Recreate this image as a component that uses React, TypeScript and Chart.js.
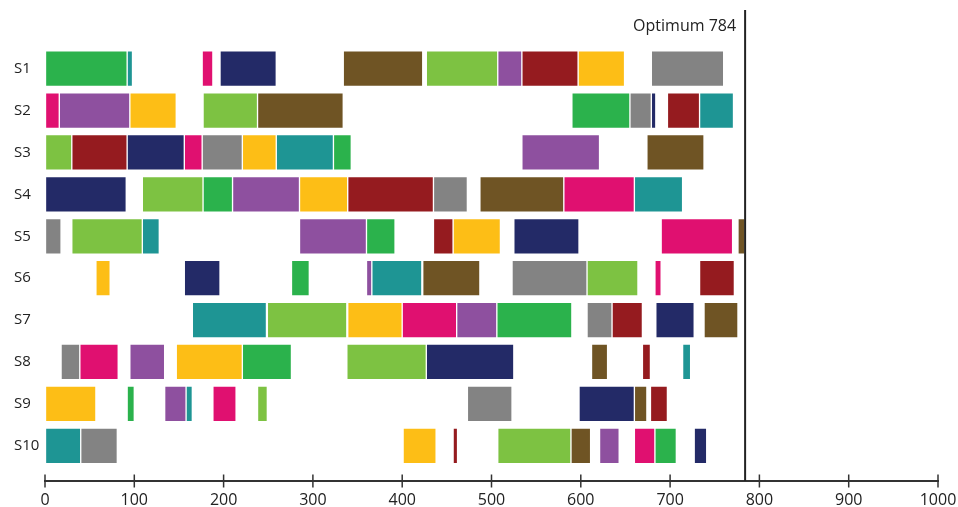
import React, { useEffect, useRef } from "react";
import { Chart, registerables } from "chart.js";

Chart.register(...registerables);

const machines = ["S1", "S2", "S3", "S4", "S5", "S6", "S7", "S8", "S9", "S10"];
const xTicks = [0, 100, 200, 300, 400, 500, 600, 700, 800, 900, 1000];
const optimum = 784;

// [start, end] per machine S1..S10 for each job (colour)
const jobGreen = [[0, 92], [590, 655], [323, 343], [177, 210], [360, 392], [276, 296], [506, 590], [221, 276], [92, 100], [683, 707]];
const jobTeal = [[92, 98], [733, 771], [259, 323], [660, 714], [109, 128], [366, 422], [165, 248], [714, 723], [158, 165], [0, 40]];
const jobMagenta = [[176, 188], [0, 16], [156, 176], [581, 660], [690, 770], [683, 690], [400, 461], [39, 82], [188, 214], [660, 683]];
const jobNavy = [[196, 259], [679, 684], [92, 156], [0, 91], [525, 598], [156, 196], [684, 727], [427, 525], [598, 660], [727, 741]];
const jobBrown = [[334, 423], [238, 334], [674, 738], [487, 581], [776, 784], [423, 487], [738, 776], [612, 630], [660, 674], [589, 611]];
const jobLightGreen = [[427, 507], [177, 238], [0, 30], [109, 177], [30, 109], [607, 664], [249, 338], [338, 427], [238, 249], [507, 589]];
const jobPurple = [[507, 534], [16, 95], [534, 621], [210, 285], [285, 360], [360, 366], [461, 506], [95, 134], [134, 158], [621, 643]];
const jobRed = [[534, 597], [697, 733], [30, 92], [339, 435], [435, 457], [733, 772], [635, 669], [669, 678], [678, 697], [457, 462]];
const jobYellow = [[597, 649], [95, 147], [221, 259], [285, 339], [457, 510], [57, 73], [339, 400], [147, 221], [0, 57], [401, 438]];
const jobGray = [[679, 760], [655, 679], [176, 221], [435, 473], [0, 18], [523, 607], [607, 635], [18, 39], [473, 523], [40, 81]];

const jobs = [
  { name: "J1", data: jobGreen, color: "#2BB24C" },
  { name: "J2", data: jobTeal, color: "#1E9594" },
  { name: "J3", data: jobMagenta, color: "#E01070" },
  { name: "J4", data: jobNavy, color: "#232A67" },
  { name: "J5", data: jobBrown, color: "#6F5424" },
  { name: "J6", data: jobLightGreen, color: "#7DC242" },
  { name: "J7", data: jobPurple, color: "#8E509F" },
  { name: "J8", data: jobRed, color: "#951B1F" },
  { name: "J9", data: jobYellow, color: "#FDBE16" },
  { name: "J10", data: jobGray, color: "#838383" },
];

const FONT = "'Open Sans', 'DejaVu Sans', sans-serif";

const overlayPlugin = {
  id: "overlay",
  afterDraw(chart: any) {
    const { ctx, chartArea, scales } = chart;
    const x = scales.x;
    const bottom = chartArea.bottom;
    ctx.save();
    // crossing tick marks
    ctx.strokeStyle = "#333";
    ctx.lineWidth = 1.5;
    xTicks.forEach((v) => {
      const px = x.getPixelForValue(v);
      ctx.beginPath();
      ctx.moveTo(px, bottom - 6.5);
      ctx.lineTo(px, bottom + 6.5);
      ctx.stroke();
    });
    // optimum line
    const ox = x.getPixelForValue(optimum);
    ctx.strokeStyle = "#222";
    ctx.lineWidth = 2;
    ctx.beginPath();
    ctx.moveTo(ox, 10);
    ctx.lineTo(ox, bottom);
    ctx.stroke();
    ctx.fillStyle = "#222";
    ctx.font = `16px ${FONT}`;
    ctx.textAlign = "right";
    ctx.textBaseline = "middle";
    ctx.fillText(`Optimum ${optimum}`, ox - 9, 26);
    ctx.restore();
  },
};

export default function App() {
  const ref = useRef<HTMLCanvasElement>(null);
  useEffect(() => {
    if (!ref.current) return;
    const chart = new Chart(ref.current, {
      type: "bar",
      data: {
        datasets: jobs.map((j) => ({
          label: j.name,
          data: j.data.map((d, i) => ({ x: d, y: i })) as any,
          backgroundColor: j.color,
          borderColor: "rgba(255,255,255,0.55)",
          borderWidth: 1,
          borderSkipped: false,
          barThickness: 35.6,
          grouped: false,
        })),
      },
      options: {
        indexAxis: "y",
        animation: false,
        responsive: true,
        maintainAspectRatio: false,
        layout: { padding: { left: 14, right: 20, top: 47.7, bottom: 0 } },
        plugins: { legend: { display: false }, tooltip: { enabled: false } },
        scales: {
          x: {
            type: "linear",
            min: 0,
            max: 1000,
            afterBuildTicks: (axis: any) => {
              axis.ticks = xTicks.map((v) => ({ value: v }));
            },
            afterFit: (axis: any) => {
              axis.height = 26;
              axis.paddingLeft = 0;
              axis.paddingRight = 0;
            },
            grid: { display: true, drawOnChartArea: false, drawTicks: false },
            border: { display: true, color: "#333", width: 2 },
            ticks: {
              padding: 10,
              color: "#222",
              font: { family: FONT, size: 16 },
              maxRotation: 0,
              callback: (v: any) => String(v),
            },
          },
          y: {
            type: "linear",
            offset: false,
            reverse: true,
            min: -0.5,
            max: 9.84,
            afterBuildTicks: (axis: any) => {
              axis.ticks = machines.map((_, i) => ({ value: i }));
            },
            afterFit: (axis: any) => {
              axis.width = 31;
            },
            grid: { display: false, offset: false },
            border: { display: false },
            ticks: {
              crossAlign: "far",
              color: "#222",
              font: { family: FONT, size: 15 },
              callback: (v: any) => machines[Math.round(Number(v))] ?? "",
            },
          },
        },
      } as any,
      plugins: [overlayPlugin],
    });
    return () => chart.destroy();
  }, []);
  return (
    <div style={{ position: "absolute", left: 0, top: 0, width: 958, height: 507, background: "#fff" }}>
      <canvas ref={ref} />
    </div>
  );
}
